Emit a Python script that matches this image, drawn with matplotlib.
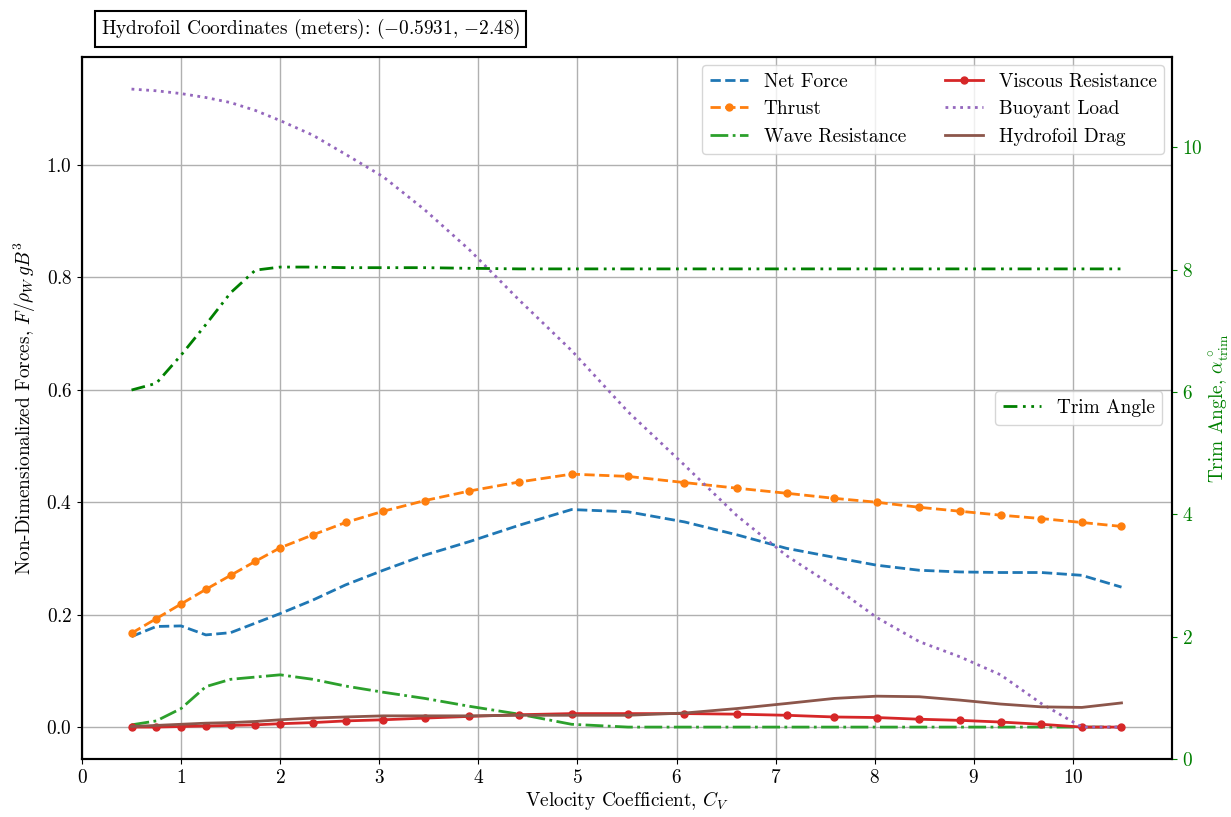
import numpy as np
import matplotlib
matplotlib.use("Agg")
import matplotlib.pyplot as plt

# ---------------------------------------------------------
# Estilo (serifado tipo Computer Modern)
# ---------------------------------------------------------
plt.rcParams["font.family"] = "serif"
plt.rcParams["font.serif"] = ["cmr10", "DejaVu Serif"]
plt.rcParams["mathtext.fontset"] = "cm"
plt.rcParams["axes.formatter.use_mathtext"] = True
plt.rcParams["font.size"] = 13.9

# ---------------------------------------------------------
# Dados
# ---------------------------------------------------------
cv = [0.50, 0.75, 1.00, 1.25, 1.50, 1.75, 2.00, 2.33, 2.66, 3.04, 3.46, 3.91, 4.41,
      4.94, 5.51, 6.08, 6.61, 7.11, 7.59, 8.02, 8.45, 8.86, 9.27, 9.68, 10.09, 10.49]

net_force = [0.161, 0.179, 0.180, 0.164, 0.168, 0.185, 0.202, 0.226, 0.253, 0.279,
             0.306, 0.330, 0.359, 0.387, 0.383, 0.365, 0.342, 0.318, 0.302, 0.288,
             0.279, 0.276, 0.275, 0.275, 0.270, 0.249]

thrust = [0.167, 0.193, 0.219, 0.245, 0.270, 0.295, 0.319, 0.342, 0.364, 0.384,
          0.403, 0.420, 0.436, 0.450, 0.446, 0.435, 0.425, 0.416, 0.407, 0.400,
          0.391, 0.384, 0.377, 0.371, 0.364, 0.357]

wave_res = [0.004, 0.011, 0.033, 0.072, 0.085, 0.089, 0.093, 0.085, 0.073, 0.062,
            0.051, 0.037, 0.023, 0.005, 0.000, 0.000, 0.000, 0.000, 0.000, 0.000,
            0.000, 0.000, 0.000, 0.000, 0.000, 0.000]

viscous_res = [0.000, 0.000, 0.001, 0.002, 0.003, 0.004, 0.006, 0.008, 0.011, 0.013,
               0.016, 0.019, 0.022, 0.024, 0.024, 0.024, 0.023, 0.021, 0.018, 0.017,
               0.014, 0.012, 0.009, 0.005, 0.000, 0.000]

buoyant = [1.135, 1.132, 1.127, 1.120, 1.111, 1.097, 1.079, 1.053, 1.019, 0.979,
           0.920, 0.849, 0.760, 0.670, 0.561, 0.466, 0.376, 0.305, 0.250, 0.195,
           0.152, 0.125, 0.093, 0.042, 0.000, 0.000]

foil_drag = [0.001, 0.003, 0.005, 0.007, 0.008, 0.010, 0.013, 0.016, 0.018, 0.020,
             0.020, 0.020, 0.021, 0.021, 0.021, 0.025, 0.033, 0.042, 0.051, 0.055,
             0.054, 0.048, 0.041, 0.036, 0.035, 0.043]

trim_angle = [6.03, 6.14, 6.60, 7.10, 7.62, 7.99, 8.04, 8.04, 8.03, 8.03, 8.03, 8.02,
              8.01, 8.01, 8.01, 8.01, 8.01, 8.01, 8.01, 8.01, 8.01, 8.01, 8.01, 8.01,
              8.01, 8.01]

coords_label = r"Hydrofoil Coordinates (meters): $(-0.5931,\, {-2.48})$"

# ---------------------------------------------------------
# Gráfico
# ---------------------------------------------------------
fig = plt.figure(figsize=(12.31, 8.17), dpi=100)
ax = fig.add_axes([0.0666, 0.071, 0.8855, 0.859])

ax.plot(cv, net_force, "--", color="tab:blue", lw=2, label="Net Force")
ax.plot(cv, thrust, "--", marker="o", ms=5, color="tab:orange", lw=2, label="Thrust")
ax.plot(cv, wave_res, "-.", color="tab:green", lw=2, label="Wave Resistance")
ax.plot(cv, viscous_res, "-", marker="o", ms=5, color="tab:red", lw=2,
        label="Viscous Resistance")
ax.plot(cv, buoyant, ":", color="tab:purple", lw=2, label="Buoyant Load")
ax.plot(cv, foil_drag, "-", color="tab:brown", lw=2, label="Hydrofoil Drag")

ax.set_xlim(0, 11)
ax.set_xticks(range(0, 11))
ax.set_yticks([0.0, 0.2, 0.4, 0.6, 0.8, 1.0])
ax.grid(True, color="#b0b0b0", lw=1)
ax.set_xlabel(r"Velocity Coefficient, $C_V$", labelpad=2)
ax.set_ylabel(r"Non-Dimensionalized Forces, $F/\rho_W\, g B^3$", labelpad=6)
ax.legend(loc="upper right", ncol=2, borderaxespad=0.4)

for s in ax.spines.values():
    s.set_linewidth(1.5)

ax2 = ax.twinx()
ax2.plot(cv, trim_angle, color="green", lw=2, linestyle=(0, (5, 2, 1, 2, 1, 2)),
         label="Trim Angle")
ax2.set_ylim(0, 11.47)
ax2.set_yticks([0, 2, 4, 6, 8, 10])
ax2.tick_params(axis="y", colors="green")
ax2.set_ylabel(r"Trim Angle, $\alpha^\circ_{\mathrm{trim}}$", color="green")
ax2.legend(loc="center right")
for s in ax2.spines.values():
    s.set_linewidth(1.5)

ax.text(0.0174, 1.0228, coords_label, transform=ax.transAxes, ha="left", va="bottom",
        bbox=dict(boxstyle="square", fc="white", ec="black", lw=1.5))

fig.savefig("out.png", dpi=100)
